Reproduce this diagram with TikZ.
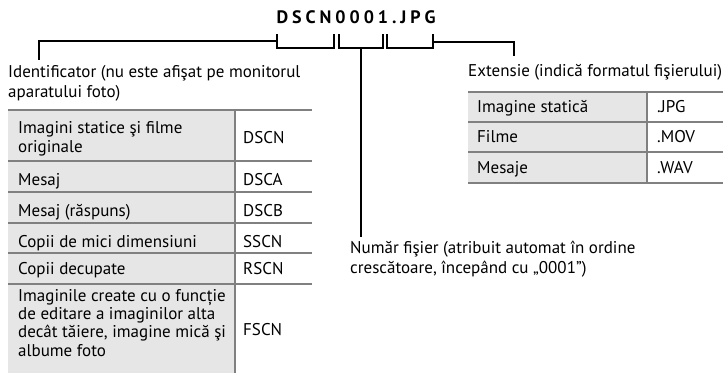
\documentclass[tikz,border=0pt]{standalone}
\usepackage{fontspec}
\setmainfont{PT Sans}
\usetikzlibrary{positioning,calc}
\definecolor{rulegray}{RGB}{128,128,128}
\definecolor{cellgray}{RGB}{230,230,230}
\newfontfamily\titlefont{PT Sans}[LetterSpace=22]
\tikzset{
  fname/.style={font=\titlefont\fontsize{18}{18}\selectfont\bfseries, inner sep=0pt},
  note/.style={font=\fontsize{17}{19.5}\selectfont, align=left, inner sep=0pt,
               anchor=base west},
  cell/.style={font=\fontsize{17}{18.3}\selectfont, align=left, inner sep=0pt,
               anchor=base west},
  bracket/.style={line width=1.9pt, draw=black},
  link/.style={line width=1.9pt, draw=black},
  rule/.style={line width=2.6pt, draw=rulegray},
  shade/.style={fill=cellgray}
}

\begin{document}
\begin{tikzpicture}[x=1pt,y=-1pt]
\useasboundingbox (0,0) rectangle (724,373);

% file name and the three brackets under it
\node[fname, anchor=base] (fname) at (356,23) {DSCN0001.JPG};
\foreach \a/\b in {277/334, 339/383, 387/433}
  \draw[bracket] (\a,34) |- (\b,48) -- (\b,34);
\coordinate (pfxtap) at (277,41);
\coordinate (numtap) at (361,48);
\coordinate (exttap) at (433,42);

% notes (base = last line)
\node[note] (idnote) at (8,97) {Identificator (nu este afişat pe monitorul\\aparatului foto)};
\node[note] (numnote) at (350,273) {Număr fişier (atribuit automat în ordine\\crescătoare, începând cu „0001”)};
\node[note] (extnote) at (468,76) {Extensie (indică formatul fişierului)};

\draw[link] (pfxtap) -| ([xshift=31pt,yshift=5pt]idnote.north west);
\draw[link] (numtap) -- ([yshift=4pt]numtap |- numnote.north);
\draw[link] (exttap) -| ([xshift=46pt,yshift=8pt]extnote.north west);

% prefix table
\fill[shade] (8,110) rectangle (235,373);
\foreach \y in {110,161,192,223,253,284}
  \draw[rule] (8,\y) -- (312,\y);
\draw[rule] (235,110) -- (235,373);

\node[cell] (src1) at (18,152) {Imagini statice şi filme\\originale};
\node[cell] (src2) at (18,185) {Mesaj};
\node[cell] (src3) at (18,216) {Mesaj (răspuns)};
\node[cell] (src4) at (18,247) {Copii de mici dimensiuni};
\node[cell] (src5) at (18,274) {Copii decupate};
\node[cell] (src6) at (18,356) {Imaginile create cu o funcție\\de editare a imaginilor alta\\decât tăiere, imagine mică şi\\albume foto};
\node[cell] (pfx1) at (243,143) {DSCN};
\node[cell] (pfx2) at (243,185) {DSCA};
\node[cell] (pfx3) at (243,216) {DSCB};
\node[cell] (pfx4) at (243,247) {SSCN};
\node[cell] (pfx5) at (243,274) {RSCN};
\node[cell] (pfx6) at (243,335) {FSCN};

% extension table
\fill[shade] (468,92) rectangle (647,183);
\foreach \y in {92,122,152,183}
  \draw[rule] (468,\y) -- (723,\y);
\draw[rule] (647,92) -- (647,183);

\node[cell] (typ1) at (477,112) {Imagine statică};
\node[cell] (typ2) at (477,142) {Filme};
\node[cell] (typ3) at (477,173) {Mesaje};
\node[cell] (sfx1) at (657,112) {.JPG};
\node[cell] (sfx2) at (657,142) {.MOV};
\node[cell] (sfx3) at (657,173) {.WAV};
\end{tikzpicture}
\end{document}
